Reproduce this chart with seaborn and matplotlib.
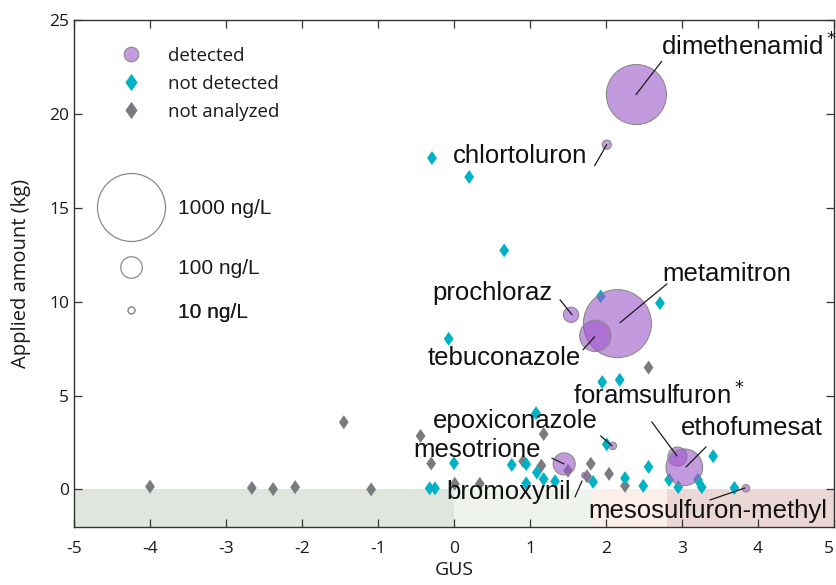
import matplotlib
matplotlib.use("Agg")
import matplotlib.pyplot as plt
import seaborn as sns
from matplotlib.lines import Line2D
from matplotlib.markers import MarkerStyle

# ---------------- data ----------------
det_names = ["dimethenamid", "chlortoluron", "prochloraz", "metamitron", "tebuconazole",
             "epoxiconazole", "mesotrione", "foramsulfuron", "ethofumesat",
             "mesosulfuron-methyl", "bromoxynil"]
det_gus = [2.40, 2.01, 1.54, 2.15, 1.86, 2.09, 1.45, 2.94, 3.03, 3.84, 1.72]
det_amount = [21.03, 18.36, 9.30, 8.83, 8.18, 2.32, 1.36, 1.75, 1.18, 0.06, 0.75]
det_conc = [780, 18, 50, 1000, 213, 12, 105, 78, 290, 12, 8]   # ng/L

nd_gus = [-0.29, 0.20, 0.66, -0.07, 1.93, 2.71, 1.95, 2.18, 1.08, 0.00, 0.76, 0.95,
          1.09, 1.18, 1.33, 0.95, -0.32, -0.25, 2.01, 1.83, 2.25, 2.56, 2.49, 2.83,
          2.95, 3.41, 3.26, 3.21, 3.69]
nd_amount = [17.65, 16.64, 12.73, 8.02, 10.28, 9.92, 5.72, 5.84, 4.06, 1.40, 1.31, 1.35,
             0.90, 0.55, 0.43, 0.33, 0.06, 0.06, 2.40, 0.40, 0.60, 1.20, 0.19, 0.51,
             0.12, 1.77, 0.12, 0.51, 0.08]

na_gus = [-4.00, -2.66, -2.38, -2.09, -1.09, -1.45, -0.44, -0.30, 0.01, 0.34, 1.18, 0.91,
          1.15, 1.50, 1.80, 1.75, 2.04, 2.25, 2.56]
na_amount = [0.15, 0.08, 0.02, 0.12, 0.00, 3.58, 2.85, 1.38, 0.30, 0.30, 2.95, 1.50,
             1.27, 1.00, 1.37, 0.70, 0.83, 0.19, 6.49]

zone_edges = [-5, 0, 1.8, 2.8, 5]
zone_colors = ["#dfe6de", "#eef4ec", "#fcefea", "#ebd8d6"]

x_ticks = [-5, -4, -3, -2, -1, 0, 1, 2, 3, 4, 5]
y_ticks = [0, 5, 10, 15, 20, 25]
category_labels = ["detected", "not detected", "not analyzed"]
size_legend_conc = [1000, 100, 10]
size_legend_labels = ["1000 ng/L", "100 ng/L", "10 ng/L"]

# label text (data coords of left/baseline) and leader lines (from, to)
label_text = ["dimethenamid$^*$", "chlortoluron", "prochloraz", "metamitron", "tebuconazole",
              "epoxiconazole", "mesotrione", "foramsulfuron$^*$", "ethofumesat",
              "mesosulfuron-methyl", "bromoxynil"]
label_xy = [(2.724, 23.16), (-0.017, 17.39), (-0.28, 10.10), (2.746, 11.08), (-0.342, 6.64),
            (-0.276, 3.26), (-0.539, 1.716), (1.570, 4.56), (2.987, 2.905), (1.763, -1.503),
            (-0.105, -0.52)]
leader_from = [(2.733, 22.80), (1.851, 17.24), (1.395, 10.10), (2.803, 10.95), (1.697, 7.44),
               (1.930, 2.85), (1.289, 1.663), (2.601, 3.598), (3.316, 2.265), (3.368, -0.56),
               (1.592, -0.40)]
leader_to = [(2.395, 21.03), (2.009, 18.36), (1.553, 9.30), (2.184, 8.88), (1.851, 8.13),
             (2.079, 2.32), (1.447, 1.36), (2.934, 1.786), (3.053, 1.20), (3.829, 0.08),
             (1.684, 0.453)]

# ---------------- style ----------------
sns.set_style("ticks")
plt.rcParams["font.family"] = ["Open Sans", "DejaVu Sans"]

PURPLE = (0.616, 0.341, 0.796, 0.6)
CYAN = "#00b2c6"
GRAY = "#7a7a7f"
EDGE = "#8a8a8a"

W, H, DPI = 836, 585, 100
L, R, T, B = 74, 834, 20, 527
fig = plt.figure(figsize=(W / DPI, H / DPI), dpi=DPI)
ax = fig.add_axes([L / W, 1 - B / H, (R - L) / W, (B - T) / H])

DIAMOND = MarkerStyle([(0, 1), (0.7, 0), (0, -1), (-0.7, 0), (0, 1)])
K = (68 * 72 / DPI) ** 2 / 1000.0   # marker area (pt^2) per ng/L

# background zones
for i, col in enumerate(zone_colors):
    ax.fill_between([zone_edges[i], zone_edges[i + 1]], -2, 0, color=col, lw=0, zorder=0)

sns.scatterplot(x=na_gus, y=na_amount, marker=DIAMOND, s=101, color=GRAY,
                edgecolor="none", linewidth=0, ax=ax, zorder=2, legend=False)
sns.scatterplot(x=nd_gus, y=nd_amount, marker=DIAMOND, s=101, color=CYAN,
                edgecolor="none", linewidth=0, ax=ax, zorder=3, legend=False)
sns.scatterplot(x=det_gus, y=det_amount, size=det_conc, sizes=(0, K * 1000),
                size_norm=(0, 1000), color=PURPLE, edgecolor=EDGE, linewidth=0.8,
                marker="o", ax=ax, zorder=4, legend=False)

for txt, (tx, ty), (x0, y0), (x1, y1) in zip(label_text, label_xy, leader_from, leader_to):
    ax.plot([x0, x1], [y0, y1], color="#1a1a1a", lw=0.9, zorder=5)
    ax.text(tx, ty, txt, ha="left", va="baseline", fontsize=18.5,
            family=["Liberation Sans", "DejaVu Sans"], color="#111111", zorder=6)

ax.set_xlim(-5, 5)
ax.set_ylim(-2, 25)
ax.set_xticks(x_ticks)
ax.set_yticks(y_ticks)
ax.set_xticklabels([str(v) for v in x_ticks])
ax.set_yticklabels([str(v) for v in y_ticks])
ax.tick_params(axis="both", direction="in", length=6, width=0.9, colors="#333333",
               labelcolor="#1a1a1a", labelsize=12.5, top=True, right=True)
ax.tick_params(axis="x", pad=10)
ax.get_xticklabels()[-1].set_ha("right")
for sp in ax.spines.values():
    sp.set_color("#333333")
    sp.set_linewidth(1.0)
ax.set_xlabel("GUS", fontsize=14, labelpad=3, color="#1a1a1a")
ax.set_ylabel("Applied amount (kg)", fontsize=14.5, labelpad=13, color="#1a1a1a")


# ---------------- legends ----------------
def to_axes(px, py):
    return ((px - L) / (R - L), (B - py) / (B - T))


def add_key(handle, label, px_marker, py, px_text, fontsize, family):
    fs_px = fontsize * DPI / 72
    hl = 2.0
    x_left = px_marker - hl * fs_px / 2
    pad = (px_text - (x_left + hl * fs_px)) / fs_px
    leg = ax.legend([handle], [label], loc="center left", bbox_to_anchor=to_axes(x_left, py),
                    bbox_transform=ax.transAxes, frameon=False, borderpad=0, borderaxespad=0,
                    handlelength=hl, handletextpad=pad,
                    prop={"family": family, "size": fontsize})
    for t in leg.get_texts():
        t.set_color("#1a1a1a")
    ax.add_artist(leg)


cat_handles = [
    Line2D([], [], ls="", marker="o", ms=10.5, mfc=PURPLE, mec=EDGE, mew=0.8),
    Line2D([], [], ls="", marker=DIAMOND, ms=12.5, mfc=CYAN, mec="none"),
    Line2D([], [], ls="", marker=DIAMOND, ms=12.5, mfc=GRAY, mec="none"),
]
for h, lab, py in zip(cat_handles, category_labels, [56, 84, 112]):
    add_key(h, lab, 131, py, 168, 13.5, ["Open Sans", "DejaVu Sans"])

for c, lab, py in zip(size_legend_conc, size_legend_labels, [209, 269, 312]):
    h = Line2D([], [], ls="", marker="o", ms=(K * c) ** 0.5, mfc="white", mec="#8a8a8a", mew=0.9)
    add_key(h, lab, 131, py, 178, 15, ["Liberation Sans", "DejaVu Sans"])

fig.savefig("out.png", dpi=DPI)
